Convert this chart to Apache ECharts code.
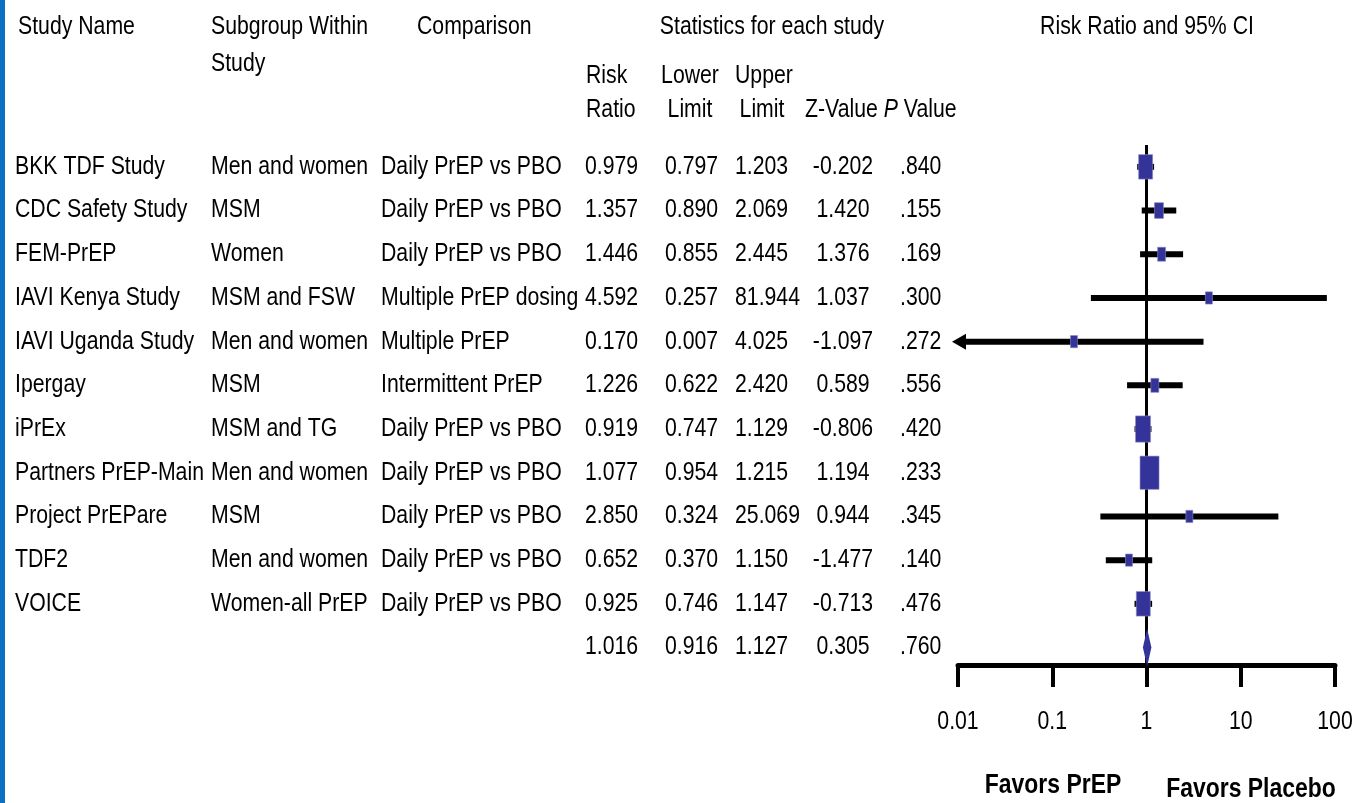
<!DOCTYPE html>
<html lang="en">
<head>
    <meta charset="UTF-8">
    <title>Forest plot</title>
    <script src="https://cdn.jsdelivr.net/npm/echarts@6/dist/echarts.min.js"></script>
    <style>
        html, body { margin: 0; padding: 0; background: #fff; }
        #main { width: 1354px; height: 803px; }
    </style>
</head>
<body>
<div id="main"></div>
<script>
    // table data
    var studies = ['BKK TDF Study', 'CDC Safety Study', 'FEM-PrEP', 'IAVI Kenya Study', 'IAVI Uganda Study',
        'Ipergay', 'iPrEx', 'Partners PrEP-Main', 'Project PrEPare', 'TDF2', 'VOICE']
    var subgroups = ['Men and women', 'MSM', 'Women', 'MSM and FSW', 'Men and women',
        'MSM', 'MSM and TG', 'Men and women', 'MSM', 'Men and women', 'Women-all PrEP']
    var comparisons = ['Daily PrEP vs PBO', 'Daily PrEP vs PBO', 'Daily PrEP vs PBO', 'Multiple PrEP dosing', 'Multiple PrEP',
        'Intermittent PrEP', 'Daily PrEP vs PBO', 'Daily PrEP vs PBO', 'Daily PrEP vs PBO', 'Daily PrEP vs PBO', 'Daily PrEP vs PBO']
    var riskRatio = [0.979, 1.357, 1.446, 4.592, 0.170, 1.226, 0.919, 1.077, 2.850, 0.652, 0.925]
    var lowerLimit = [0.797, 0.890, 0.855, 0.257, 0.007, 0.622, 0.747, 0.954, 0.324, 0.370, 0.746]
    var upperLimit = [1.203, 2.069, 2.445, 81.944, 4.025, 2.420, 1.129, 1.215, 25.069, 1.150, 1.147]
    var zValue = ['-0.202', '1.420', '1.376', '1.037', '-1.097', '0.589', '-0.806', '1.194', '0.944', '-1.477', '-0.713']
    var pValue = ['.840', '.155', '.169', '.300', '.272', '.556', '.420', '.233', '.345', '.140', '.476']
    // relative weight (square size)
    var weights = [14, 9, 8, 7, 7, 8, 15, 19, 7, 7, 14]
    // pooled estimate
    var pooled = {rr: 1.016, lo: 0.916, hi: 1.127, z: '0.305', p: '.760'}
    var tickValues = [0.01, 0.1, 1, 10, 100]
    var tickLabels = ['0.01', '0.1', '1', '10', '100']

    // no narrow font installed, so squeeze Liberation Sans horizontally
    var FONT = '"Liberation Sans", Arial, sans-serif'
    var FS = 25
    var SQ = 0.85
    var BLUE = '#333399'
    var ROW_MAX = 11.4

    function fmt(v) { return v.toFixed(3) }

    var studyData = riskRatio.map(function (rr, i) {
        return [rr, i, lowerLimit[i], upperLimit[i], weights[i]]
    })
    var tableRows = studies.map(function (s, i) {
        return [1, i, s, subgroups[i], comparisons[i], fmt(riskRatio[i]), fmt(lowerLimit[i]), fmt(upperLimit[i]), zValue[i], pValue[i]]
    })
    tableRows.push([1, 11, '', '', '', fmt(pooled.rr), fmt(pooled.lo), fmt(pooled.hi), pooled.z, pooled.p])

    function txt(x, y, s, align, font) {
        return {
            type: 'text', x: x, y: y, scaleX: SQ,
            style: {x: 0, y: 0, text: s, fill: '#000', font: font || (FS + 'px ' + FONT),
                textAlign: align || 'left', textVerticalAlign: 'middle'}
        }
    }

    function renderTable(params, api) {
        var y = api.coord([1, api.value(1)])[1]
        var d = tableRows[params.dataIndex]
        return {
            type: 'group',
            children: [
                txt(15, y, d[2]),
                txt(211, y, d[3]),
                txt(381, y, d[4]),
                txt(585, y, d[5]),
                txt(665, y, d[6]),
                txt(735, y, d[7]),
                txt(843, y, d[8], 'center'),
                txt(900, y, d[9])
            ]
        }
    }

    function renderTickLabel(params, api) {
        var p = api.coord([api.value(0), ROW_MAX])
        return txt(p[0], p[1] + 57, tickLabels[params.dataIndex], 'center')
    }

    function renderStudy(params, api) {
        var rr = api.value(0), row = api.value(1), lo = api.value(2), hi = api.value(3), w = api.value(4)
        var cs = params.coordSys
        var c = api.coord([rr, row])
        var p2 = api.coord([Math.min(hi, 100), row])
        var children = []
        var x1
        if (lo < 0.01) {
            // lower limit off scale: arrow at the left edge
            x1 = cs.x + 6
            children.push({
                type: 'polygon',
                shape: {points: [[cs.x - 6, c[1]], [cs.x + 8, c[1] - 8], [cs.x + 8, c[1] + 8]]},
                style: {fill: '#000'}
            })
        } else {
            x1 = api.coord([lo, row])[0]
        }
        children.push({
            type: 'line',
            shape: {x1: x1, y1: c[1], x2: p2[0], y2: c[1]},
            style: {stroke: '#000', lineWidth: 6}
        })
        var h = w * 1.75
        children.push({
            type: 'rect',
            shape: {x: c[0] - w / 2, y: c[1] - h / 2, width: w, height: h},
            style: {fill: BLUE, stroke: '#8c8cc8', lineWidth: 0.6}
        })
        return {type: 'group', children: children}
    }

    function renderPooled(params, api) {
        var row = api.value(1)
        var c = api.coord([api.value(0), row])
        var l = api.coord([api.value(2), row])
        var r = api.coord([api.value(3), row])
        return {
            type: 'polygon',
            shape: {points: [[c[0], c[1] - 19], [r[0], c[1]], [c[0], c[1] + 19], [l[0], c[1]]]},
            style: {fill: BLUE}
        }
    }

    var chart = echarts.init(document.getElementById('main'))
    chart.setOption({
        animation: false,
        backgroundColor: '#fff',
        textStyle: {fontFamily: FONT},
        grid: {left: 958, right: 19, top: 145, height: 520, outerBoundsMode: 'none', containLabel: false},
        xAxis: {
            type: 'log', logBase: 10, min: 0.01, max: 100,
            axisLine: {show: true, onZero: false, lineStyle: {color: '#000', width: 5}},
            axisTick: {show: true, inside: false, length: 22, lineStyle: {color: '#000', width: 4}},
            minorTick: {show: false},
            splitLine: {show: false},
            axisLabel: {show: false}
        },
        yAxis: {
            type: 'value', inverse: true, min: -0.5, max: ROW_MAX,
            show: false
        },
        series: [
            {
                type: 'line', data: [[1, -0.5], [1, ROW_MAX]], symbol: 'none',
                lineStyle: {color: '#000', width: 3}, silent: true, z: 1
            },
            {type: 'custom', renderItem: renderStudy, data: studyData, encode: {x: 0, y: 1}, z: 3, clip: false},
            {type: 'custom', renderItem: renderPooled, data: [[pooled.rr, 11, pooled.lo, pooled.hi]], encode: {x: 0, y: 1}, z: 3},
            {type: 'custom', renderItem: renderTable, data: tableRows.map(function (r) { return [r[0], r[1]] }), encode: {x: 0, y: 1}, clip: false, z: 4},
            {type: 'custom', renderItem: renderTickLabel, data: tickValues.map(function (v) { return [v, ROW_MAX] }), encode: {x: 0, y: 1}, clip: false, z: 4}
        ],
        graphic: [
            {type: 'rect', left: 0, top: 0, shape: {width: 5, height: 803}, style: {fill: '#0b6fc2'}},
            txt(18, 27, 'Study Name'),
            txt(211, 27, 'Subgroup Within'),
            txt(211, 64, 'Study'),
            txt(417, 27, 'Comparison'),
            txt(772, 27, 'Statistics for each study', 'center'),
            txt(1147, 27, 'Risk Ratio and 95% CI', 'center'),
            txt(586, 76, 'Risk'),
            txt(586, 110, 'Ratio'),
            txt(690, 76, 'Lower', 'center'),
            txt(690, 110, 'Limit', 'center'),
            txt(735, 76, 'Upper'),
            txt(762, 110, 'Limit', 'center'),
            {
                type: 'text', x: 805, y: 110, scaleX: SQ,
                style: {
                    x: 0, y: 0, textVerticalAlign: 'middle',
                    text: 'Z-Value {i|P} Value',
                    font: FS + 'px ' + FONT, fill: '#000',
                    rich: {i: {fontStyle: 'italic', fontSize: FS, fontFamily: FONT, fill: '#000'}}
                }
            },
            txt(1053, 786, 'Favors PrEP', 'center', 'bold 27px ' + FONT),
            txt(1251, 790, 'Favors Placebo', 'center', 'bold 27px ' + FONT)
        ]
    })
</script>
</body>
</html>
